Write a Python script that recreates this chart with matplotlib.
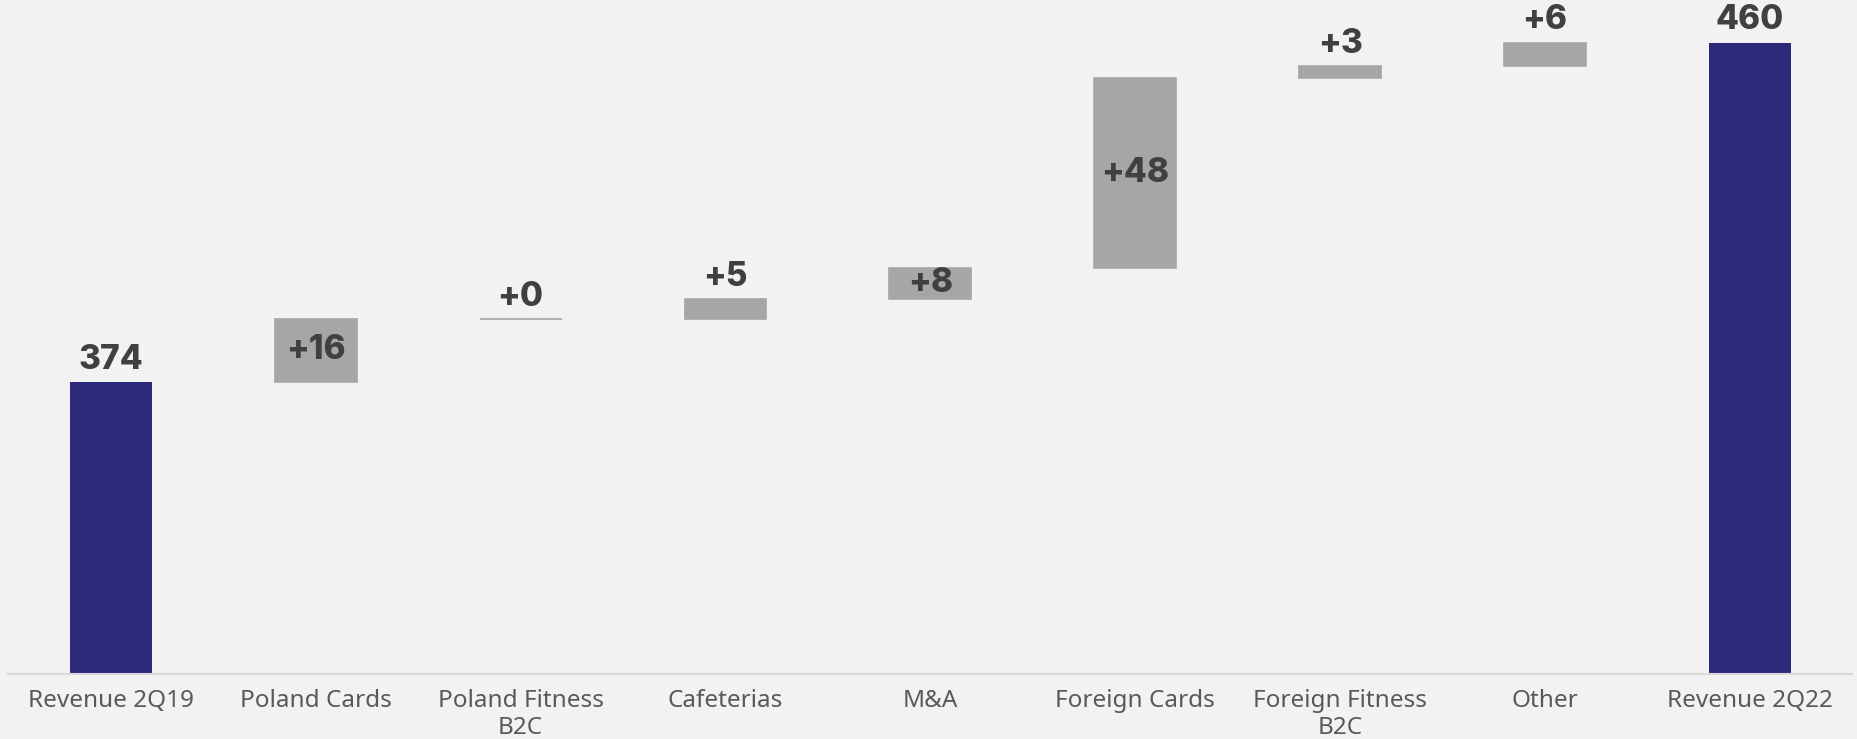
import matplotlib
matplotlib.use('Agg')
import matplotlib.pyplot as plt
import numpy as np

# revenue bridge 2Q19 -> 2Q22
categories = ['Revenue 2Q19', 'Poland Cards', 'Poland Fitness\nB2C', 'Cafeterias', 'M&A',
              'Foreign Cards', 'Foreign Fitness\nB2C', 'Other', 'Revenue 2Q22']
start_value = 374
deltas = [16, 0, 5, 8, 48, 3, 6]
end_value = 460

NAVY = '#2E2A7B'
GREY = '#A6A6A6'
BG = '#F2F2F2'
TXT = '#404040'

plt.rcParams['font.family'] = ['Inter', 'DejaVu Sans']
VAL_FONT = dict(fontsize=24, fontweight='heavy', color=TXT, family=['Inter', 'DejaVu Sans'])

fig = plt.figure(figsize=(18.58, 7.39), dpi=100, facecolor=BG)
ax = fig.add_axes([0.0045, 0.088, 0.9925, 0.912], facecolor=BG)

x = np.arange(len(categories))
width = 0.4
y0 = 300
off = 1.6

# totals
ax.bar(x[0], start_value - y0, width, bottom=y0, color=NAVY)
ax.bar(x[-1], end_value - y0, width, bottom=y0, color=NAVY)
ax.text(x[0], start_value + off, str(start_value), ha='center', va='bottom', **VAL_FONT)
ax.text(x[-1], end_value + off, str(end_value), ha='center', va='bottom', **VAL_FONT)

# floating increments
running = start_value
for i, d in enumerate(deltas, start=1):
    ax.bar(x[i], d, width, bottom=running, color=GREY, edgecolor=GREY, linewidth=1.2)
    if d >= 8:
        ax.text(x[i], running + d / 2, f'+{d}', ha='center', va='center', **VAL_FONT)
    else:
        ax.text(x[i], running + d + off, f'+{d}', ha='center', va='bottom', **VAL_FONT)
    running += d

ax.set_xlim(-0.5, len(categories) - 0.5)
ax.set_ylim(y0, 470.8)
ax.set_xticks(x)
ax.set_xticklabels(categories, fontsize=17.5, color='#595959', linespacing=1.15,
                   family=['Noto Sans', 'DejaVu Sans'], fontweight='light')
ax.tick_params(axis='x', length=0, pad=11)
ax.set_yticks([])
for s in ['top', 'right', 'left']:
    ax.spines[s].set_visible(False)
ax.spines['bottom'].set_color('#D9D9D9')
ax.spines['bottom'].set_linewidth(1.5)

plt.savefig('out.png', dpi=100, facecolor=BG)
